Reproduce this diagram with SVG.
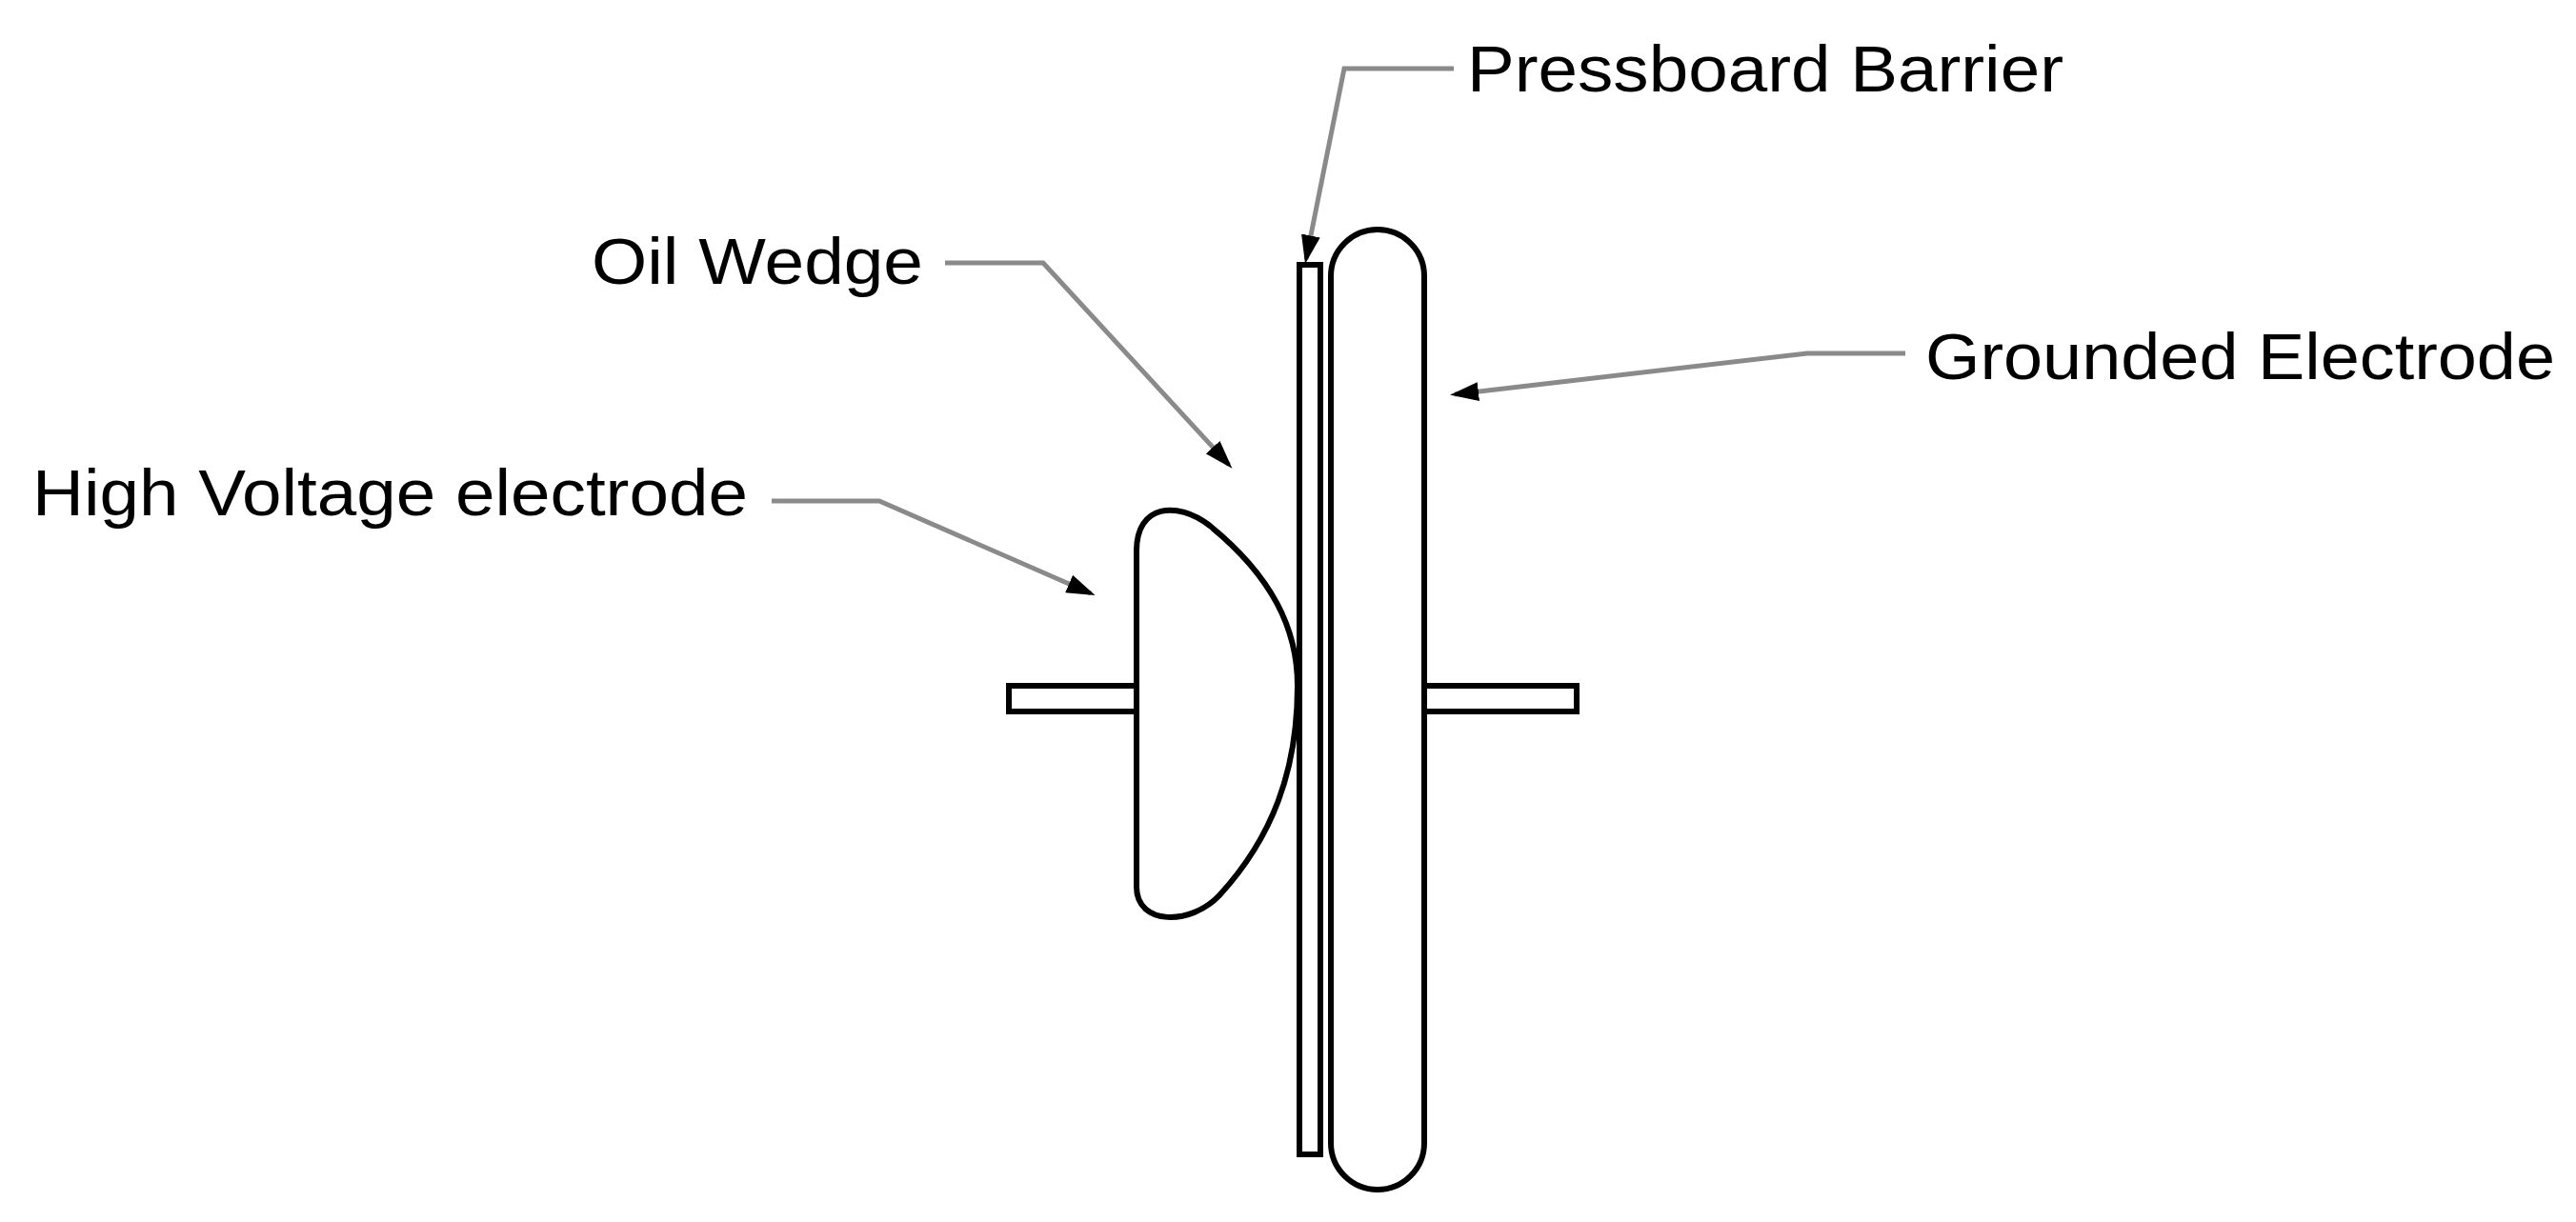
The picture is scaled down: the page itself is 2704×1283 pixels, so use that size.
<svg xmlns="http://www.w3.org/2000/svg" width="2704" height="1283" viewBox="0 0 2704 1283">
<style>
.o{fill:#fff;stroke:#000;stroke-width:6}
.l{fill:none;stroke:#8a8a8a;stroke-width:5}
text{font-family:"Liberation Sans",Arial,sans-serif;font-size:68px;fill:#000}
</style>
<defs><marker id="a" markerWidth="6" markerHeight="4" refX="5" refY="2" orient="auto"><path d="M0,0L6,2L0,4Z" fill="#000"/></marker></defs>
<rect width="2704" height="1283" fill="#fff"/>
<g id="stubL"><rect class="o" x="1059" y="720" width="134" height="27"/></g>
<g id="stubR"><rect class="o" x="1495" y="720" width="160" height="27"/></g>
<g id="hv"><path class="o" d="M1193,931 L1193,578 C1193,530 1235,525 1270,552 C1335,605 1362,660 1362,720 C1362,810 1335,880 1280,940 C1250,972 1193,972 1193,931 Z"/></g>
<g id="ground"><rect class="o" x="1397" y="241" width="98" height="1008" rx="49" ry="49"/></g>
<g id="barrier"><rect class="o" x="1364" y="278" width="22" height="934"/></g>
<g id="connectors">
<path class="l" marker-end="url(#a)" d="M1526,72 L1411,72 L1371,272"/>
<path class="l" marker-end="url(#a)" d="M992,276 L1095,276 L1290,488"/>
<path class="l" marker-end="url(#a)" d="M810,526 L923,526 L1145,623"/>
<path class="l" marker-end="url(#a)" d="M2000,371 L1897,371 L1527,414"/>
</g>
<g id="labels">
<text x="1540" y="96" textLength="626" lengthAdjust="spacingAndGlyphs">Pressboard Barrier</text>
<text x="621" y="298" textLength="348" lengthAdjust="spacingAndGlyphs">Oil Wedge</text>
<text x="34" y="541" textLength="751" lengthAdjust="spacingAndGlyphs">High Voltage electrode</text>
<text x="2021" y="398" textLength="661" lengthAdjust="spacingAndGlyphs">Grounded Electrode</text>
</g>
</svg>
